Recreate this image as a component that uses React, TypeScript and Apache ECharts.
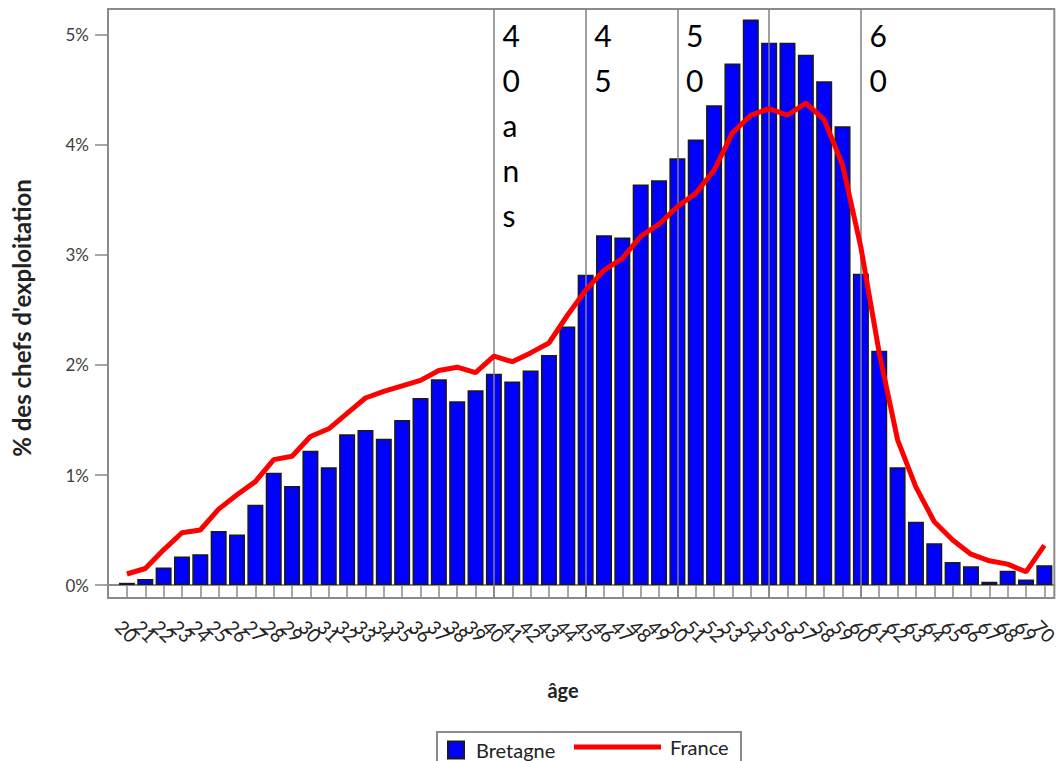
import React, { useEffect, useRef } from "react";
import * as echarts from "echarts";

const ages = [20, 21, 22, 23, 24, 25, 26, 27, 28, 29, 30, 31, 32, 33, 34, 35, 36, 37, 38, 39, 40, 41, 42, 43, 44, 45, 46, 47, 48, 49, 50, 51, 52, 53, 54, 55, 56, 57, 58, 59, 60, 61, 62, 63, 64, 65, 66, 67, 68, 69, 70];

const bretagne = [
  0.02, 0.055, 0.16, 0.26, 0.28, 0.49, 0.46, 0.73, 1.02, 0.9,
  1.22, 1.07, 1.37, 1.41, 1.33, 1.5, 1.7, 1.87, 1.67, 1.77,
  1.92, 1.85, 1.95, 2.09, 2.35, 2.82, 3.18, 3.16, 3.64, 3.68,
  3.88, 4.05, 4.36, 4.74, 5.14, 4.93, 4.93, 4.82, 4.58, 4.17,
  2.83, 2.13, 1.07, 0.575, 0.38, 0.21, 0.17, 0.03, 0.13, 0.05, 0.18,
];

const france = [
  0.1, 0.15, 0.32, 0.475, 0.5, 0.69, 0.82, 0.94, 1.14, 1.17,
  1.35, 1.42, 1.56, 1.7, 1.76, 1.81, 1.86, 1.95, 1.98, 1.93,
  2.08, 2.03, 2.11, 2.2, 2.45, 2.68, 2.86, 2.97, 3.17, 3.28,
  3.44, 3.56, 3.77, 4.11, 4.27, 4.33, 4.27, 4.38, 4.23, 3.82,
  3.07, 2.11, 1.32, 0.89, 0.575, 0.41, 0.28, 0.22, 0.19, 0.12, 0.36,
];

const yTicks = [0, 1, 2, 3, 4, 5];
const refLineAges = [40, 45, 50, 55, 60];
const annotationAges = [40, 45, 50, 60];
const annotationTexts = ["4\n0\na\nn\ns", "4\n5", "5\n0", "6\n0"];

const FONT = "Lato, 'Open Sans', sans-serif";

export default function App() {
  const ref = useRef<HTMLDivElement>(null);

  useEffect(() => {
    if (!ref.current) return;
    const chart = echarts.init(ref.current, null, { renderer: "svg" });
    const yMax = 5.236;
    const xMin = 18.9685;
    const xMax = 70.543;
    const evenAges = ages.filter((_, i) => i % 2 === 0);
    const oddAges = ages.filter((_, i) => i % 2 === 1);
    const xLabel = (values: number[]) => ({
      customValues: values,
      hideOverlap: false,
      rotate: -45,
      align: "center",
      verticalAlign: "middle",
      margin: 33,
      fontFamily: FONT,
      fontSize: 19,
      color: "#222222",
      formatter: (v: number) => String(Math.round(v)),
    });
    const option: any = {
      animation: false,
      backgroundColor: "#ffffff",
      grid: {
        left: 108,
        right: 3,
        top: 9,
        bottom: 163,
        show: true,
        borderColor: "#8a8a8a",
        borderWidth: 2,
        backgroundColor: "transparent",
      },
      xAxis: [
        {
          type: "value",
          min: xMin,
          max: xMax,
          splitLine: { show: false },
          axisLine: { show: true, lineStyle: { color: "#8a8a8a", width: 2 } },
          axisTick: {
            show: true,
            customValues: ages,
            length: 12,
            lineStyle: { color: "#8a8a8a", width: 1.5 },
          },
          axisLabel: xLabel(evenAges),
        },
        {
          type: "value",
          position: "bottom",
          min: xMin,
          max: xMax,
          splitLine: { show: false },
          axisLine: { show: false },
          axisTick: { show: false },
          axisLabel: xLabel(oddAges),
        },
      ],
      yAxis: {
        type: "value",
        min: -0.118,
        max: yMax,
        splitLine: { show: false },
        axisLine: { show: true, lineStyle: { color: "#8a8a8a", width: 2 } },
        axisTick: {
          show: true,
          customValues: yTicks,
          length: 13,
          lineStyle: { color: "#8a8a8a", width: 1.5 },
        },
        axisLabel: {
          customValues: yTicks,
          margin: 19,
          fontFamily: FONT,
          fontSize: 17,
          color: "#404040",
          formatter: (v: number) => Math.round(v) + "%",
        },
      },
      legend: [
        {
          data: [{ name: "Bretagne", icon: "rect" }],
          left: 447,
          top: 740,
          padding: 0,
          itemWidth: 16,
          itemHeight: 17,
          selectedMode: false,
          textStyle: { fontFamily: FONT, fontSize: 20, color: "#222222", padding: [0, 0, 0, 7] },
        },
        {
          data: [{ name: "France", icon: "rect" }],
          left: 574,
          top: 737,
          padding: 0,
          itemWidth: 87,
          itemHeight: 5,
          selectedMode: false,
          textStyle: { fontFamily: FONT, fontSize: 20, color: "#222222", padding: [0, 0, 0, 4] },
        },
      ],
      graphic: [
        {
          type: "rect",
          shape: { x: 437, y: 732, width: 304, height: 40 },
          style: { fill: "none", stroke: "#8a8a8a", lineWidth: 2 },
          silent: true,
        },
        {
          type: "text",
          x: 21,
          y: 318,
          rotation: Math.PI / 2,
          style: {
            text: "% des chefs d'exploitation",
            align: "center",
            verticalAlign: "middle",
            font: `bold 24px ${FONT}`,
            fill: "#222222",
          },
        },
        {
          type: "text",
          x: 563,
          y: 690,
          style: {
            text: "âge",
            align: "center",
            verticalAlign: "middle",
            font: `bold 20px ${FONT}`,
            fill: "#222222",
          },
        },
      ],
      series: [
        {
          name: "Bretagne",
          type: "bar",
          xAxisIndex: 0,
          data: ages.map((a, i) => [a, bretagne[i]]),
          barWidth: 16,
          z: 2,
          itemStyle: { color: "#0000ff", borderColor: "#1a1a1a", borderWidth: 1.5 },
          markLine: {
            silent: true,
            symbol: "none",
            z: 3,
            label: { show: false },
            lineStyle: { color: "#808080", width: 1.5, type: "solid" },
            data: refLineAges.map((a) => ({ xAxis: a })),
          },
          markPoint: {
            silent: true,
            symbol: "circle",
            symbolSize: 1,
            itemStyle: { color: "rgba(0,0,0,0)" },
            label: {
              show: true,
              position: [9, 4],
              align: "left",
              verticalAlign: "top",
              fontFamily: FONT,
              fontSize: 30,
              lineHeight: 45,
              color: "#000000",
            },
            data: annotationAges.map((a, i) => ({
              coord: [a, yMax],
              label: { formatter: annotationTexts[i] },
            })),
          },
        },
        {
          name: "France",
          type: "line",
          xAxisIndex: 0,
          data: ages.map((a, i) => [a, france[i]]),
          symbol: "none",
          showSymbol: false,
          z: 4,
          itemStyle: { color: "#ff0000" },
          lineStyle: { color: "#ff0000", width: 5 },
        },
      ],
    };
    chart.setOption(option);
    return () => chart.dispose();
  }, []);

  return (
    <div
      ref={ref}
      style={{ position: "absolute", left: 0, top: 0, width: 1061, height: 761 }}
    />
  );
}
